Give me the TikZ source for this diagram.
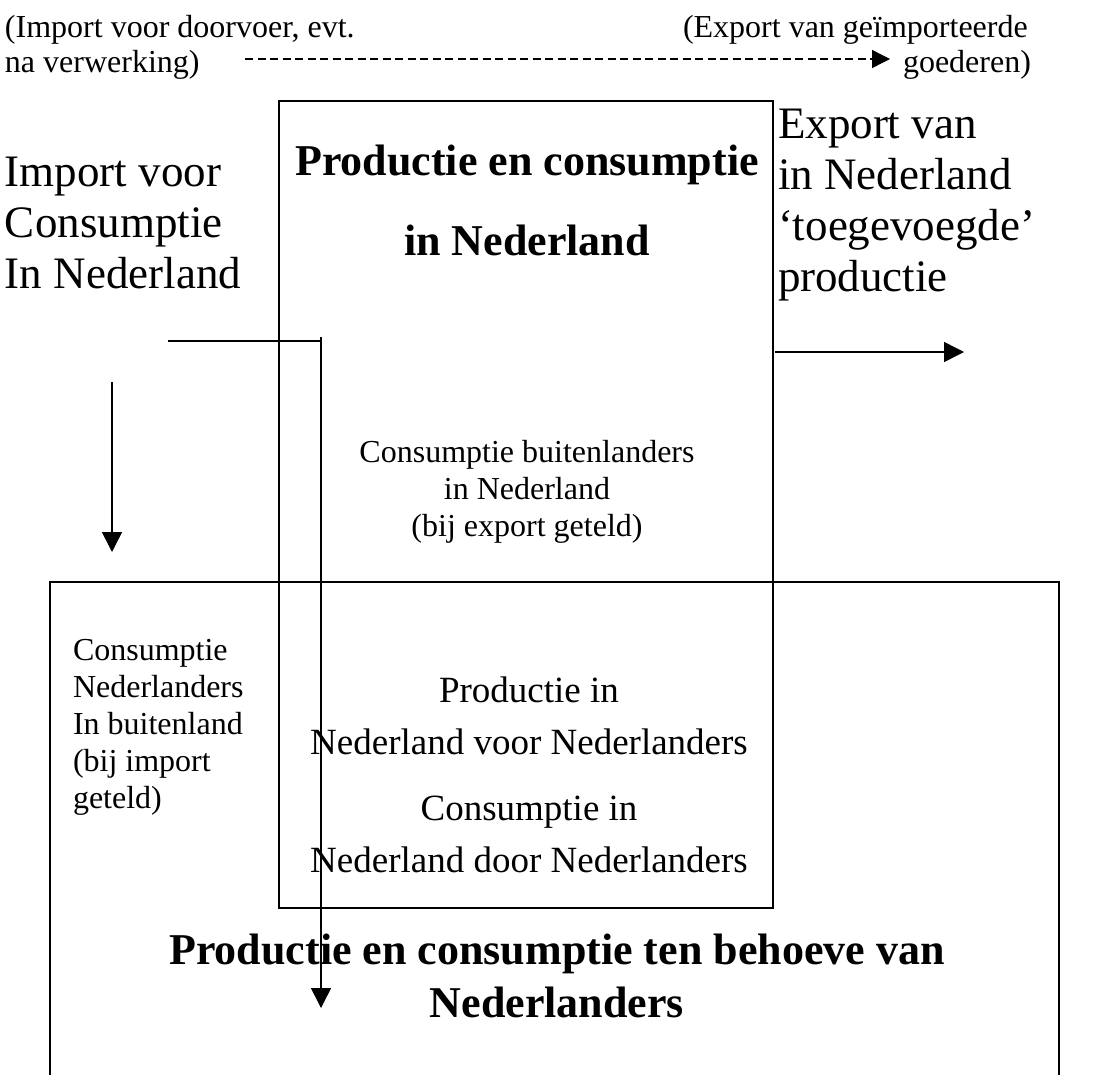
\documentclass[tikz,border=0pt]{standalone}
\usepackage{fontspec}
\setmainfont{Liberation Serif}
\usetikzlibrary{arrows.meta}
\begin{document}
\begin{tikzpicture}[x=1pt,y=-1pt,
  every node/.style={inner sep=0pt, outer sep=0pt},
  lbl/.style={anchor=base west},
  clbl/.style={anchor=base},
  bigf/.style={font=\fontsize{45}{52}\selectfont},
  smlf/.style={font=\fontsize{32}{37}\selectfont},
  midf/.style={font=\fontsize{37}{44}\selectfont},
  ttlf/.style={font=\fontsize{44}{52}\selectfont\bfseries},
  frame/.style={draw, line width=1.6pt},
  conn/.style={line width=1.5pt, -{Triangle[length=20pt,width=20pt]}},
  plain/.style={line width=1.5pt},
  dconn/.style={line width=1.4pt, dash pattern=on 8pt off 4.5pt, -{Triangle[length=18pt,width=18pt]}}
]
\useasboundingbox (0,0) rectangle (1119,1074);

% frames
\node[frame, minimum width=1009pt, minimum height=518pt] (boxb) at (554.5,841) {};
\node[frame, minimum width=494pt, minimum height=807pt] (boxa) at (526,504.5) {};

% top texts
\node[lbl, smlf] (ti1) at (5,37) {(Import voor doorvoer, evt.};
\node[lbl, smlf] (ti2) at (5,72) {na verwerking)};
\node[lbl, smlf] (te1) at (683,37) {(Export van geïmporteerde};
\node[lbl, smlf] (te2) at (903,72) {goederen)};

% left import text
\node[lbl, bigf] (im1) at (5,186) {Import voor};
\node[lbl, bigf] (im2) at (5,237) {Consumptie};
\node[lbl, bigf] (im3) at (5,288) {In Nederland};

% right export text
\node[lbl, bigf] (ex1) at (778,138) {Export van};
\node[lbl, bigf] (ex2) at (778,189) {in Nederland};
\node[lbl, bigf] (ex3) at (778,240) {‘toegevoegde’};
\node[lbl, bigf] (ex4) at (778,291) {productie};

% box A title
\node[clbl, ttlf] (ta1) at (527,175) {Productie en consumptie};
\node[clbl, ttlf] (ta2) at (527,255) {in Nederland};

% foreigners consumption
\node[clbl, smlf] (cb1) at (527,462) {Consumptie buitenlanders};
\node[clbl, smlf] (cb2) at (527,499) {in Nederland};
\node[clbl, smlf] (cb3) at (527,536) {(bij export geteld)};

% Dutch abroad
\node[lbl, smlf] (cn1) at (73,660) {Consumptie};
\node[lbl, smlf] (cn2) at (73,697) {Nederlanders};
\node[lbl, smlf] (cn3) at (73,734) {In buitenland};
\node[lbl, smlf] (cn4) at (73,771) {(bij import};
\node[lbl, smlf] (cn5) at (73,808) {geteld)};

% centre
\node[clbl, midf] (pn1) at (529,702) {Productie in};
\node[clbl, midf] (pn2) at (529,754) {Nederland voor Nederlanders};
\node[clbl, midf] (pn3) at (529,820) {Consumptie in};
\node[clbl, midf] (pn4) at (529,872) {Nederland door Nederlanders};

% box B title
\node[clbl, ttlf] (tb1) at (557,964) {Productie en consumptie ten behoeve van};
\node[clbl, ttlf] (tb2) at (557,1017) {Nederlanders};

% connectors
\coordinate (ds) at (245,59);
\coordinate (de) at (890,59);
\draw[dconn] (ds) -- (de);

\coordinate (hs) at (168,341);
\coordinate (hc) at (321,341);
\coordinate (vs) at (321,337);
\coordinate (ve) at (321,1008);
\draw[plain] (hs) -- (hc);
\draw[conn] (vs) -- (ve);

\coordinate (rs) at (775,352);
\coordinate (re) at (964,352);
\draw[conn] (rs) -- (re);

\coordinate (ls) at (112,382);
\coordinate (le) at (112,552);
\draw[conn] (ls) -- (le);
\end{tikzpicture}
\end{document}
